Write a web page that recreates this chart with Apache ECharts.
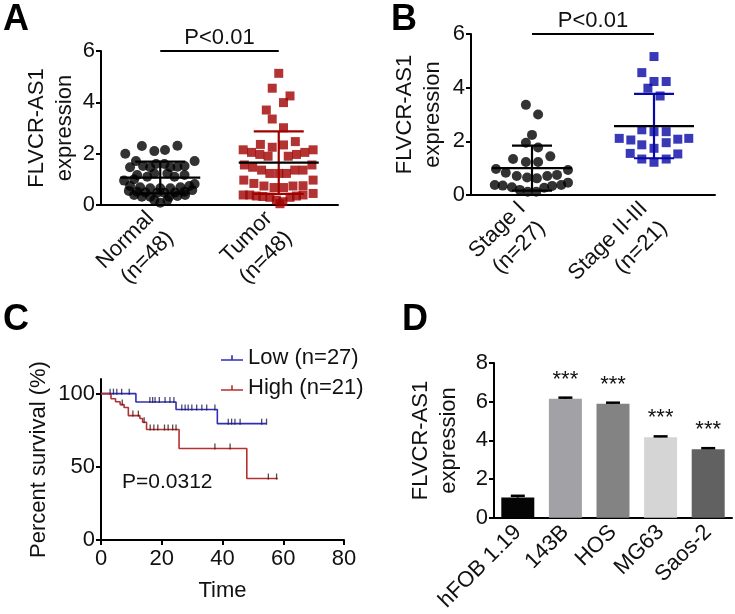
<!DOCTYPE html>
<html><head><meta charset="utf-8">
<script src="https://cdn.jsdelivr.net/npm/echarts@6/dist/echarts.min.js"></script>
<style>html,body{margin:0;padding:0;background:#fff}#c{width:735px;height:614px}</style>
</head><body><div id="c"></div>
<script>
const FONT = '"Liberation Sans", Arial, Helvetica, sans-serif';

// ---------- Panel A ----------
const catsA = ['Normal\n(n=48)', 'Tumor\n(n=48)'];
// [offset from category centre (category units), expression]
const normalPts = [
  [-0.59,2.0],[-0.31,2.3],[-0.10,2.1],[0.08,2.14],[0.29,2.31],
  [-0.51,1.47],[-0.41,1.71],[-0.29,1.52],[-0.17,1.47],[0.17,1.47],[0.29,1.49],[0.41,1.52],[0.58,1.71],[-0.07,1.6],[0.07,1.6],
  [-0.61,0.95],[0.58,0.82],
  [-0.51,0.74],[-0.34,0.69],[-0.17,0.65],[0,0.65],[0.17,0.65],[0.34,0.69],[0.49,0.74],
  [-0.53,0.55],[-0.39,0.52],[-0.25,0.49],[0.25,0.49],[0.41,0.52],[0.54,0.58],
  [-0.44,0.39],[-0.31,0.32],[-0.17,0.32],[0.15,0.32],[0.29,0.35],[0.42,0.39],
  [-0.10,0.19],[0,0.09],[0.12,0.19],[-0.05,0.48],[0.07,0.48],
  [-0.39,1.17],[-0.22,1.10],[0.24,1.10],[0.41,1.17],[-0.10,1.23],[0.12,1.23],[-0.44,1.0]
];
const tumorPts = [
  [0,5.13],[-0.11,4.55],[0.19,4.25],[0.08,3.99],[-0.21,3.70],[-0.11,3.35],[0.08,3.01],
  [-0.31,2.36],[-0.11,2.25],[0.08,2.34],[0.28,2.47],
  [-0.60,2.15],[-0.46,2.05],[-0.32,1.97],[-0.18,1.9],[0.16,1.9],[0.30,1.97],[0.44,2.05],[0.58,2.15],
  [-0.58,1.56],[-0.44,1.47],[-0.29,1.36],[-0.15,1.23],[0,1.23],[0.13,1.23],[0.27,1.36],[0.41,1.36],[0.56,1.56],
  [-0.59,0.97],[-0.42,0.84],[-0.25,0.74],[-0.08,0.68],[0.08,0.68],[0.24,0.74],[0.41,0.75],[0.58,0.97],
  [-0.60,0.39],[-0.49,0.39],[-0.38,0.35],[-0.27,0.33],[-0.15,0.30],[-0.04,0.19],[0.07,0.13],[0.19,0.30],[0.30,0.35],[0.41,0.39],[0.58,0.45],[0.02,0.05]
];
const statsA = [[1.07, 0.62], [1.65, 1.22]];   // mean, SD
const sigTextA = 'P<0.01';

// ---------- Panel B ----------
const catsB = ['Stage I\n(n=27)', 'Stage II-III\n(n=21)'];
const stage1Pts = [
  [-0.10,3.36],[0.10,3.0],[0,2.24],[-0.10,1.95],[0.10,1.77],[-0.31,1.34],[-0.10,1.23],[0.10,1.23],[0.30,1.44],
  [-0.59,0.97],[0.59,0.93],[-0.43,0.83],[-0.25,0.71],[-0.08,0.65],[0.08,0.62],[0.25,0.71],[0.41,0.75],
  [-0.61,0.37],[-0.48,0.35],[-0.33,0.29],[-0.20,0.19],[-0.07,0.12],[0.07,0.12],[0.20,0.27],[0.33,0.34],[0.48,0.37],[0.59,0.46]
];
const stage23Pts = [
  [0,5.16],[-0.20,4.56],[0,4.23],[0.20,4.23],[-0.10,3.98],[0.10,3.69],
  [-0.20,2.43],[0,2.36],[0.20,2.36],[-0.57,2.11],[-0.38,2.05],[-0.20,1.87],[0,1.74],[0.20,1.95],[0.39,2.08],[0.57,2.11],
  [-0.39,1.55],[-0.20,1.34],[0,1.22],[0.20,1.34],[0.39,1.53]
];
const statsB = [[1.0, 0.84], [2.57, 1.2]];
const sigTextB = 'P<0.01';

// ---------- Panel C ----------
const lowName = 'Low (n=27)', highName = 'High (n=21)';
const lowSteps = [[0,100],[11.5,94.3],[24.7,89.2],[38.3,79.5],[54.5,79.5]];
const highSteps = [[0,100],[3.3,96.5],[4.8,94.5],[6.3,92.5],[7.6,90.5],[9.0,85.0],[12.8,83.0],[13.7,80.5],[15.0,75.5],[25.7,62.5],[48.0,42.0],[58.2,42.0]];
const lowCensor = [3.0,4.1,5.2,6.8,9.3,16.1,17.0,17.8,19.2,21.1,22.7,24.0,26.6,27.7,28.7,29.9,31.5,33.2,34.8,37.5,41.9,43.0,44.1,45.8,52.9,54.5];
const highCensor = [7.0,10.5,12.3,14.2,16.2,17.4,18.7,20.9,22.1,23.6,24.7,37.5,42.5,55.1,57.8];
const pTextC = 'P=0.0312';

// ---------- Panel D ----------
const cellLines = ['hFOB 1.19','143B','HOS','MG63','Saos-2'];
const cellValues = [1.05, 6.15, 5.9, 4.17, 3.55];
const cellErrors = [0.09, 0.06, 0.05, 0.04, 0.05];
const cellStars = ['', '***', '***', '***', '***'];
const cellColors = ['#050505', '#a2a2a6', '#838383', '#d5d5d5', '#616161'];

// ---------- helpers ----------
const C_RED = '#a00000', C_BLUE = '#0808a6';
const KM_BLUE = '#2f2fb5', KM_RED = '#b53030';
function survAt(steps, t){ let v = steps[0][1]; for (const s of steps) if (s[0] <= t) v = s[1]; return v; }
function place(pts, centre){ return pts.map(p => [centre + p[0], p[1]]); }

const axLine = {lineStyle:{color:'#000', width:2}};
const axTick = {length:5, lineStyle:{color:'#000', width:2}};
const lbl = (extra) => Object.assign({color:'#111', fontSize:22, fontFamily:FONT, margin:6}, extra||{});
const nameStyle = {color:'#111', fontSize:22, fontFamily:FONT, lineHeight:28};

function errRender(colors, meanHalf, capHalf){
  return function(params, api){
    const x = api.value(0), m = api.value(1), sd = api.value(2);
    const c = api.coord([x, m]);
    const t = api.coord([x, m + sd]);
    const b = api.coord([x, Math.max(0, m - sd)]);
    const col = colors[params.dataIndex];
    return {type:'group', children:[
      {type:'line', shape:{x1:t[0], y1:t[1], x2:b[0], y2:b[1]}, style:{stroke:col, lineWidth:2.2}},
      {type:'line', shape:{x1:t[0]-capHalf, y1:t[1], x2:t[0]+capHalf, y2:t[1]}, style:{stroke:col, lineWidth:2.2}},
      {type:'line', shape:{x1:b[0]-capHalf, y1:b[1], x2:b[0]+capHalf, y2:b[1]}, style:{stroke:col, lineWidth:2.2}},
      {type:'line', shape:{x1:c[0]-meanHalf, y1:c[1], x2:c[0]+meanHalf, y2:c[1]}, style:{stroke:'#000', lineWidth:2.2}}
    ]};
  };
}
function sigRender(text){
  return function(params, api){
    const a = api.coord([api.value(0), api.value(2)]);
    const b = api.coord([api.value(1), api.value(2)]);
    return {type:'group', children:[
      {type:'line', shape:{x1:a[0], y1:a[1], x2:b[0], y2:b[1]}, style:{stroke:'#000', lineWidth:2.2}},
      {type:'text', x:(a[0]+b[0])/2, y:a[1]-2, style:{text:text, fill:'#111', fontSize:22, fontFamily:FONT, align:'center', verticalAlign:'bottom'}}
    ]};
  };
}

const chart = echarts.init(document.getElementById('c'), null, {renderer:'canvas'});
const titleStyle = {fontSize:36, fontWeight:'bold', fontFamily:FONT, color:'#000'};

const option = {
  backgroundColor:'#fff',
  animation:false,
  title:[
    {text:'A', left:3, top:2, padding:0, textStyle:titleStyle},
    {text:'B', left:391, top:2, padding:0, textStyle:titleStyle},
    {text:'C', left:3, top:302, padding:0, textStyle:titleStyle},
    {text:'D', left:402, top:302, padding:0, textStyle:titleStyle},
    {text:pTextC, left:122, top:472, padding:0, textStyle:{fontSize:21, fontWeight:'normal', fontFamily:FONT, color:'#111'}}
  ],
  legend:{
    data:[lowName, highName], left:216, top:342, orient:'vertical', itemGap:8,
    itemWidth:22, itemHeight:8,
    icon:'path://M0,5h22v1.6h-22z M10.2,1h1.6v4h-1.6z',
    textStyle:{fontSize:22, color:'#111', fontFamily:FONT}
  },
  grid:[
    {left:101, top:51, width:237, height:154},
    {left:471, top:34, width:244, height:161},
    {left:101, top:379, width:243, height:161},
    {left:494, top:363, width:238, height:156}
  ],
  xAxis:[
    {gridIndex:0, type:'value', min:0, max:4, show:false, position:'top'},
    {gridIndex:0, type:'category', data:catsA, position:'bottom', boundaryGap:true, axisLine:axLine,
     axisTick:Object.assign({alignWithLabel:true}, axTick), axisLabel:lbl({rotate:45, margin:20, lineHeight:28})},
    {gridIndex:1, type:'value', min:0, max:4, show:false, position:'top'},
    {gridIndex:1, type:'category', data:catsB, position:'bottom', boundaryGap:true, axisLine:axLine,
     axisTick:Object.assign({alignWithLabel:true}, axTick), axisLabel:lbl({rotate:45, margin:20, lineHeight:28})},
    {gridIndex:2, type:'value', min:0, max:80, interval:20, axisLine:axLine, axisTick:axTick, splitLine:{show:false},
     axisLabel:lbl({margin:8}), name:'Time', nameLocation:'middle', nameGap:37, nameTextStyle:nameStyle},
    {gridIndex:3, type:'category', data:cellLines, boundaryGap:true, axisLine:axLine,
     axisTick:Object.assign({alignWithLabel:true}, axTick), axisLabel:lbl({rotate:45, margin:11, interval:0})}
  ],
  yAxis:[
    {gridIndex:0, type:'value', min:0, max:6, interval:2, axisLine:Object.assign({show:true},axLine), axisTick:Object.assign({show:true},axTick),
     splitLine:{show:false}, axisLabel:lbl(), name:'FLVCR-AS1\nexpression', nameLocation:'middle', nameRotate:90, nameGap:21, nameTextStyle:nameStyle},
    {gridIndex:1, type:'value', min:0, max:6, interval:2, axisLine:Object.assign({show:true},axLine), axisTick:Object.assign({show:true},axTick),
     splitLine:{show:false}, axisLabel:lbl(), name:'FLVCR-AS1\nexpression', nameLocation:'middle', nameRotate:90, nameGap:24, nameTextStyle:nameStyle},
    {gridIndex:2, type:'value', min:0, max:110, interval:50, axisLine:Object.assign({show:true},axLine),
     axisTick:Object.assign({show:true, customValues:[0,50,100]},axTick),
     splitLine:{show:false}, axisLabel:lbl({customValues:[0,50,100]}), name:'Percent survival (%)', nameLocation:'middle', nameRotate:90, nameGap:48, nameTextStyle:nameStyle},
    {gridIndex:3, type:'value', min:0, max:8, interval:2, axisLine:Object.assign({show:true},axLine), axisTick:Object.assign({show:true},axTick),
     splitLine:{show:false}, axisLabel:lbl(), name:'FLVCR-AS1\nexpression', nameLocation:'middle', nameRotate:90, nameGap:31, nameTextStyle:nameStyle}
  ],
  series:[
    // Panel A
    {type:'scatter', xAxisIndex:0, yAxisIndex:0, symbol:'circle', symbolSize:10, itemStyle:{color:'#000'}, data:place(normalPts, 1), z:2},
    {type:'scatter', xAxisIndex:0, yAxisIndex:0, symbol:'rect', symbolSize:9, itemStyle:{color:C_RED}, data:place(tumorPts, 3), z:2},
    {type:'custom', xAxisIndex:0, yAxisIndex:0, renderItem:errRender(['#000', C_RED], 40, 25),
     data:[[1, statsA[0][0], statsA[0][1]], [3, statsA[1][0], statsA[1][1]]], z:5},
    {type:'custom', xAxisIndex:0, yAxisIndex:0, renderItem:sigRender(sigTextA), data:[[1, 3, 6]], z:5, clip:false},
    // Panel B
    {type:'scatter', xAxisIndex:2, yAxisIndex:1, symbol:'circle', symbolSize:10, itemStyle:{color:'#000'}, data:place(stage1Pts, 1), z:2},
    {type:'scatter', xAxisIndex:2, yAxisIndex:1, symbol:'rect', symbolSize:9, itemStyle:{color:C_BLUE}, data:place(stage23Pts, 3), z:2},
    {type:'custom', xAxisIndex:2, yAxisIndex:1, renderItem:errRender(['#000', C_BLUE], 40, 20),
     data:[[1, statsB[0][0], statsB[0][1]], [3, statsB[1][0], statsB[1][1]]], z:5},
    {type:'custom', xAxisIndex:2, yAxisIndex:1, renderItem:sigRender(sigTextB), data:[[1, 3, 6]], z:5, clip:false},
    // Panel C
    {type:'line', name:lowName, xAxisIndex:4, yAxisIndex:2, step:'end', data:lowSteps, showSymbol:false, symbol:'none',
     lineStyle:{color:KM_BLUE, width:1.6}, itemStyle:{color:KM_BLUE}, z:3},
    {type:'line', name:highName, xAxisIndex:4, yAxisIndex:2, step:'end', data:highSteps, showSymbol:false, symbol:'none',
     lineStyle:{color:KM_RED, width:1.6}, itemStyle:{color:KM_RED}, z:3},
    {type:'scatter', name:'lowCensor', xAxisIndex:4, yAxisIndex:2, symbol:'rect', symbolSize:[1.3,6], symbolOffset:[0,-2],
     itemStyle:{color:'#1a1a55'}, data:lowCensor.map(t => [t, survAt(lowSteps, t)]), z:4},
    {type:'scatter', name:'highCensor', xAxisIndex:4, yAxisIndex:2, symbol:'rect', symbolSize:[1.3,6], symbolOffset:[0,-2],
     itemStyle:{color:'#3a1515'}, data:highCensor.map(t => [t, survAt(highSteps, t)]), z:4},
    // Panel D
    {type:'bar', xAxisIndex:5, yAxisIndex:3, barWidth:33,
     data:cellValues.map((v,i) => ({value:v, itemStyle:{color:cellColors[i]}})),
     label:{show:true, position:'top', distance:8, formatter:p => cellStars[p.dataIndex], fontSize:22, color:'#111', fontFamily:FONT}, z:2},
    {type:'custom', xAxisIndex:5, yAxisIndex:3, z:5,
     renderItem:function(params, api){
       const b = api.coord([api.value(0), api.value(1)]);
       const t = api.coord([api.value(0), api.value(1) + api.value(2)]);
       return {type:'group', children:[
         {type:'line', shape:{x1:b[0], y1:b[1], x2:t[0], y2:t[1]}, style:{stroke:'#000', lineWidth:2.5}},
         {type:'line', shape:{x1:t[0]-7, y1:t[1], x2:t[0]+7, y2:t[1]}, style:{stroke:'#000', lineWidth:2.5}}
       ]};
     },
     data:cellValues.map((v,i) => [i, v, cellErrors[i]])}
  ]
};
chart.setOption(option);
</script>
</body></html>
